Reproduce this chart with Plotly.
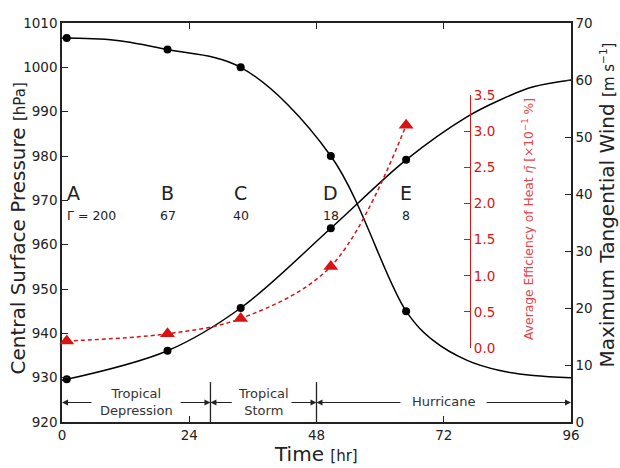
import plotly.graph_objects as go

# ---------------- data ----------------
marker_time = [0.9, 19.9, 33.7, 50.7, 64.9]
pressure = [1006.6, 1004.0, 1000.0, 980.0, 945.0]
wind = [7.5, 12.5, 20.0, 34.0, 46.0]
efficiency = [0.10, 0.20, 0.41, 1.13, 3.08]
case_labels = ["A", "B", "C", "D", "E"]
gamma_labels = ["Γ = 200", "67", "40", "18", "8"]

curve_time_p = [0, 10, 19.9, 33.7, 50.7, 64.9, 70, 76.4, 82.6, 88.9, 96]
curve_pressure = [1006.6, 1006.1, 1004.0, 1000.0, 980.0, 945.0, 938.4, 933.9, 931.6, 930.5, 930.0]
curve_time_w = [0, 19.9, 33.7, 50.7, 64.9, 76.3, 82.6, 88.9, 96]
curve_wind = [7.3, 12.5, 20.0, 34.0, 46.0, 53.5, 56.5, 58.8, 60.0]

phase_names = ["Tropical<br>Depression", "Tropical<br>Storm", "Hurricane"]
phase_bounds = [0, 28, 48, 96]

x_ticks = [0, 24, 48, 72, 96]

RED = "rgb(214,20,20)"
RED_T = "rgb(226,70,70)"
INK = "#222222"
FONT = "DejaVu Sans"

fig = go.Figure()

# pressure curve + markers
fig.add_trace(go.Scatter(x=curve_time_p, y=curve_pressure, mode="lines",
                         line=dict(color="black", width=1.5, shape="spline"),
                         xaxis="x", yaxis="y", hoverinfo="skip"))
fig.add_trace(go.Scatter(x=marker_time, y=pressure, mode="markers",
                         marker=dict(color="black", size=8), cliponaxis=False,
                         xaxis="x", yaxis="y"))
# wind curve + markers
fig.add_trace(go.Scatter(x=curve_time_w, y=curve_wind, mode="lines",
                         line=dict(color="black", width=1.5, shape="spline"),
                         xaxis="x", yaxis="y2", hoverinfo="skip"))
fig.add_trace(go.Scatter(x=marker_time, y=wind, mode="markers",
                         marker=dict(color="black", size=8), cliponaxis=False,
                         xaxis="x", yaxis="y2"))
# efficiency
fig.add_trace(go.Scatter(x=marker_time, y=efficiency, mode="lines+markers",
                         line=dict(color=RED, width=1.5, dash="4px,3px", shape="spline"),
                         marker=dict(color=RED, size=13, symbol="triangle-up"),
                         cliponaxis=False, xaxis="x", yaxis="y3"))

annotations = []
# case labels
for i, (t, lab, g) in enumerate(zip(marker_time, case_labels, gamma_labels)):
    anchor = "left" if i == 0 else "center"
    shift = -2 if i == 0 else 0
    annotations.append(dict(x=t, y=971.7, xref="x", yref="y", text=lab, showarrow=False,
                            xanchor=anchor, yanchor="middle", xshift=shift,
                            font=dict(family=FONT, size=19, color=INK)))
    annotations.append(dict(x=t, y=966.5, xref="x", yref="y", text=g, showarrow=False,
                            xanchor=anchor, yanchor="middle", xshift=shift,
                            font=dict(family=FONT, size=12.5, color=INK)))

# phase band
arrow_y = 924.4
for k, name in enumerate(phase_names):
    mid = (phase_bounds[k] + phase_bounds[k + 1]) / 2
    annotations.append(dict(x=mid, y=924.6, xref="x", yref="y", text=name, showarrow=False,
                            xanchor="center", yanchor="middle",
                            font=dict(family=FONT, size=13, color="#333")))
arrow_segs = [(5.85, 0), (22.1, 28), (32.3, 28), (43.0, 48), (64.1, 48), (79.8, 96)]
for tail, head in arrow_segs:
    annotations.append(dict(x=head, y=arrow_y, ax=tail, ay=arrow_y, xref="x", yref="y",
                            axref="x", ayref="y", text="", showarrow=True, arrowhead=2,
                            arrowsize=1, arrowwidth=1.2, arrowcolor="#222"))

shapes = []
for b in phase_bounds[1:-1]:
    shapes.append(dict(type="line", xref="x", yref="y", x0=b, x1=b, y0=920, y1=929,
                       line=dict(color="#222", width=1.3)))

# axis titles
annotations.append(dict(x=-0.0864, y=0.485, xref="paper", yref="paper", textangle=-90,
                        showarrow=False, xanchor="center", yanchor="middle",
                        text="Central Surface Pressure <span style='font-size:15px'>[hPa]</span>",
                        font=dict(family=FONT, size=20, color=INK)))
annotations.append(dict(x=1.070, y=0.544, xref="paper", yref="paper", textangle=-90,
                        showarrow=False, xanchor="center", yanchor="middle",
                        text="Maximum Tangential Wind <span style='font-size:15px'>[m s<sup>−1</sup>]</span>",
                        font=dict(family=FONT, size=20, color=INK)))
annotations.append(dict(x=0.499, y=-0.079, xref="paper", yref="paper",
                        showarrow=False, xanchor="center", yanchor="middle",
                        text="Time <span style='font-size:15px'>[hr]</span>",
                        font=dict(family=FONT, size=20, color=INK)))
annotations.append(dict(x=0.9155, y=0.509, xref="paper", yref="paper", textangle=-90,
                        showarrow=False, xanchor="center", yanchor="middle",
                        text="Average Efficiency of Heat <i>η̄</i> [×10<sup>−1</sup> %]",
                        font=dict(family=FONT, size=12.3, color=RED_T)))

axis_common = dict(showgrid=False, zeroline=False, showline=True, linewidth=1.5,
                   linecolor=INK, ticks="inside", ticklen=6, tickwidth=1.2, tickcolor=INK,
                   tickfont=dict(family=FONT, size=13.5, color=INK))

fig.update_layout(
    width=620, height=468,
    margin=dict(l=62, r=49, t=23, b=46),
    paper_bgcolor="white", plot_bgcolor="rgba(0,0,0,0)", showlegend=False,
    font=dict(family=FONT, size=13.5, color=INK),
    xaxis=dict(range=[0, 96], tickvals=x_ticks, mirror="ticks", anchor="y", **axis_common),
    yaxis=dict(range=[920, 1010], dtick=10, anchor="x", **axis_common),
    yaxis2=dict(range=[0, 70], dtick=10, overlaying="y", side="right", anchor="x", **axis_common),
    yaxis3=dict(range=[0, 3.5], dtick=0.5, tickformat=".1f", domain=[0.185, 0.820],
                anchor="free", position=0.8016, side="right",
                showgrid=False, zeroline=False, showline=True, linewidth=1.3, linecolor=RED,
                ticks="inside", ticklen=6, tickwidth=1.2, tickcolor=RED,
                tickfont=dict(family=FONT, size=13.5, color=RED)),
    annotations=annotations,
    shapes=shapes,
)

fig.write_html("out.html", config={"displayModeBar": False})
